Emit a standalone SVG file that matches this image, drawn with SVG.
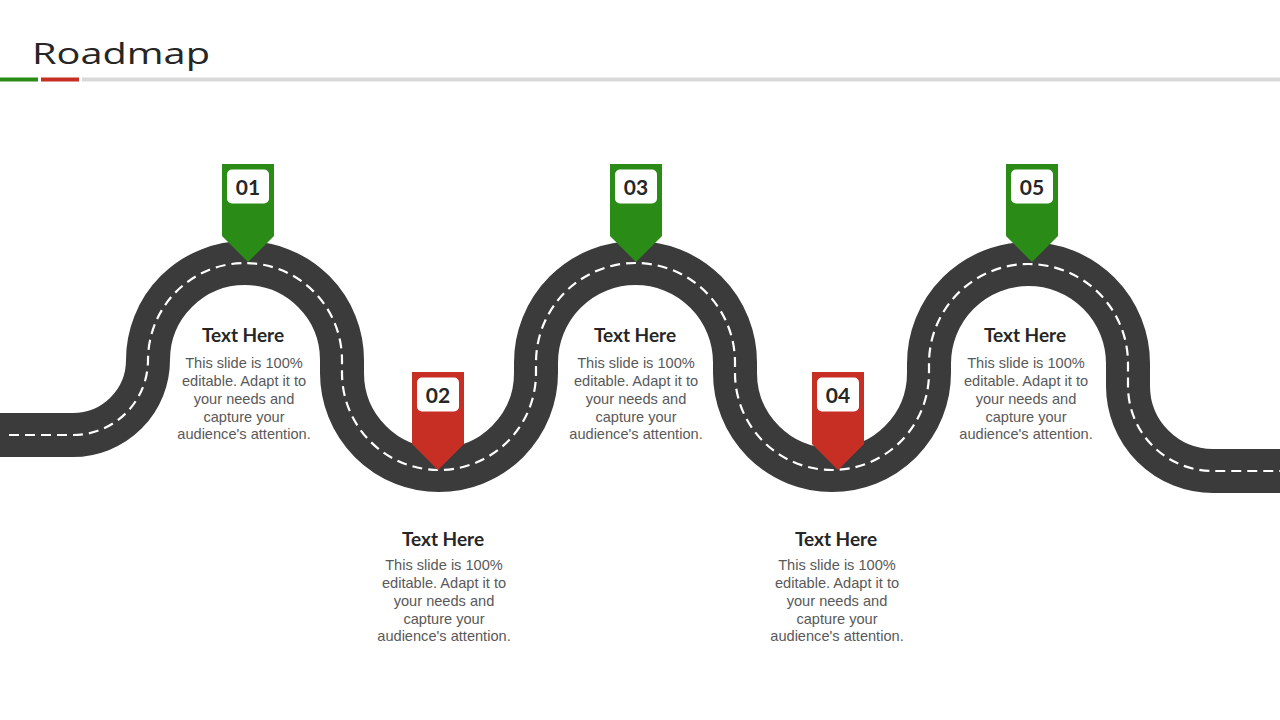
<svg xmlns="http://www.w3.org/2000/svg" width="1280" height="720" viewBox="0 0 1280 720">
  <style>
    .title { font-family: "Open Sans", "Liberation Sans", sans-serif; font-weight: 400; font-size: 30px; fill: #262626; }
    .road { fill: none; stroke: #3b3b3b; stroke-width: 44; }
    .lane { fill: none; stroke: #ffffff; stroke-width: 2.2; stroke-dasharray: 10 6; }
    .green { fill: #2a8c17; }
    .red { fill: #c72e24; }
    .badge { fill: #ffffff; }
    .num { font-family: "Lato", "Liberation Sans", sans-serif; font-weight: 700; font-size: 21px; fill: #262626; text-anchor: middle; }
    .head { font-family: "Lato", "Liberation Sans", sans-serif; font-weight: 700; font-size: 19px; fill: #262626; text-anchor: middle; }
    .body { font-family: "Liberation Sans", Arial, sans-serif; font-size: 14.6px; fill: #595959; text-anchor: middle; }
  </style>

  <g id="header">
    <text class="title" x="32" y="64" textLength="178" lengthAdjust="spacingAndGlyphs">Roadmap</text>
    <rect x="0" y="77.5" width="38" height="4" fill="#2a8c17"/>
    <rect x="41" y="77.5" width="38" height="4" fill="#c72e24"/>
    <rect x="82" y="77.5" width="1198" height="4" fill="#d9d9d9"/>
  </g>

  <g id="connectors">
    <path id="road" class="road" d="M -5 435 L 73 435 A 75 75 0 0 0 148 360 A 97 97 0 0 1 342 360 L 342 373 A 97 97 0 0 0 536 373 L 536 362.5 A 99.5 99.5 0 0 1 735 362.5 L 735 373 A 97 97 0 0 0 929 373 L 929 363.5 A 99.5 99.5 0 0 1 1128 363.5 L 1128 386 A 85 85 0 0 0 1213 471 L 1285 471"/>
    <path id="lane" class="lane" d="M 9 435 L 73 435 A 75 75 0 0 0 148 360 A 97 97 0 0 1 342 360 L 342 373 A 97 97 0 0 0 536 373 L 536 362.5 A 99.5 99.5 0 0 1 735 362.5 L 735 373 A 97 97 0 0 0 929 373 L 929 363.5 A 99.5 99.5 0 0 1 1128 363.5 L 1128 386 A 85 85 0 0 0 1213 471 L 1285 471"/>
  </g>

  <g id="step-01">
    <polygon class="green" points="222,164 274,164 274,236 248,262 222,236"/>
    <rect class="badge" x="227" y="169.5" width="42" height="34" rx="5"/>
    <text class="num" x="248" y="195">01</text>
    <text class="head" x="243" y="342">Text Here</text>
    <text class="body" x="244"><tspan x="244" y="368">This slide is 100%</tspan><tspan x="244" y="386">editable. Adapt it to</tspan><tspan x="244" y="403.5">your needs and</tspan><tspan x="244" y="421.5">capture your</tspan><tspan x="244" y="439">audience's attention.</tspan></text>
  </g>

  <g id="step-02">
    <polygon class="red" points="412,372 464,372 464,444 438,470 412,444"/>
    <rect class="badge" x="417" y="377.5" width="42" height="34" rx="5"/>
    <text class="num" x="438" y="403">02</text>
    <text class="head" x="443" y="546">Text Here</text>
    <text class="body" x="444"><tspan x="444" y="570">This slide is 100%</tspan><tspan x="444" y="588">editable. Adapt it to</tspan><tspan x="444" y="605.5">your needs and</tspan><tspan x="444" y="623.5">capture your</tspan><tspan x="444" y="641">audience's attention.</tspan></text>
  </g>

  <g id="step-03">
    <polygon class="green" points="610,164 662,164 662,236 636,262 610,236"/>
    <rect class="badge" x="615" y="169.5" width="42" height="34" rx="5"/>
    <text class="num" x="636" y="195">03</text>
    <text class="head" x="635" y="342">Text Here</text>
    <text class="body" x="636"><tspan x="636" y="368">This slide is 100%</tspan><tspan x="636" y="386">editable. Adapt it to</tspan><tspan x="636" y="403.5">your needs and</tspan><tspan x="636" y="421.5">capture your</tspan><tspan x="636" y="439">audience's attention.</tspan></text>
  </g>

  <g id="step-04">
    <polygon class="red" points="812,372 864,372 864,444 838,470 812,444"/>
    <rect class="badge" x="817" y="377.5" width="42" height="34" rx="5"/>
    <text class="num" x="838" y="403">04</text>
    <text class="head" x="836" y="546">Text Here</text>
    <text class="body" x="837"><tspan x="837" y="570">This slide is 100%</tspan><tspan x="837" y="588">editable. Adapt it to</tspan><tspan x="837" y="605.5">your needs and</tspan><tspan x="837" y="623.5">capture your</tspan><tspan x="837" y="641">audience's attention.</tspan></text>
  </g>

  <g id="step-05">
    <polygon class="green" points="1006,164 1058,164 1058,236 1032,262 1006,236"/>
    <rect class="badge" x="1011" y="169.5" width="42" height="34" rx="5"/>
    <text class="num" x="1032" y="195">05</text>
    <text class="head" x="1025" y="342">Text Here</text>
    <text class="body" x="1026"><tspan x="1026" y="368">This slide is 100%</tspan><tspan x="1026" y="386">editable. Adapt it to</tspan><tspan x="1026" y="403.5">your needs and</tspan><tspan x="1026" y="421.5">capture your</tspan><tspan x="1026" y="439">audience's attention.</tspan></text>
  </g>
</svg>
